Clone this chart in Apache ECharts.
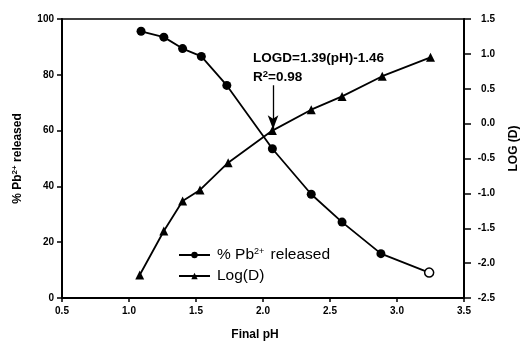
<!DOCTYPE html>
<html>
<head>
<meta charset="utf-8">
<script src="https://cdn.jsdelivr.net/npm/echarts@6/dist/echarts.min.js"></script>
<style>
html, body { margin: 0; padding: 0; background: #fff; }
#chart { width: 523px; height: 345px; }
</style>
</head>
<body>
<div id="chart"></div>
<script>
// pH values
const phPb = [1.09, 1.26, 1.40, 1.54, 1.73, 2.07, 2.36, 2.59, 2.88, 3.24];
const pbReleased = [95.6, 93.5, 89.4, 86.6, 76.2, 53.5, 37.2, 27.2, 15.9, 9.1];
const phLog = [1.08, 1.26, 1.40, 1.53, 1.74, 2.07, 2.36, 2.59, 2.89, 3.25];
const logD = [-2.17, -1.54, -1.11, -0.95, -0.56, -0.10, 0.20, 0.39, 0.68, 0.95];

const font = "Liberation Sans, Arial, sans-serif";

var myChart = echarts.init(document.getElementById("chart"));

let pbData = [];
phPb.forEach((x, i) => {
    let item = { value: [x, pbReleased[i]] };
    if (i === phPb.length - 1) {
        // last point drawn hollow in the original
        item.itemStyle = { color: "#fff", borderColor: "#000", borderWidth: 1.5 };
    }
    pbData.push(item);
});
let logData = phLog.map((x, i) => [x, logD[i]]);

const tickLabel = { color: "#000", fontFamily: font, fontWeight: "bold", fontSize: 10 };
const axisLine = { show: true, lineStyle: { color: "#000", width: 2 } };

myChart.setOption({
    animation: false,
    grid: {
        left: 62, right: 59, top: 19, bottom: 47,
        outerBoundsMode: "none",
        containLabel: false,
        show: true, borderColor: "#000", borderWidth: 1.5
    },
    legend: {
        left: 173, top: 242,
        orient: "vertical",
        itemWidth: 31, itemHeight: 8, itemGap: 5,
        data: ["pb", "log"],
        formatter: (name) => name === "pb" ? "{a|% Pb}{s|2+}{a| released}" : "{a|Log(D)}",
        textStyle: {
            color: "#000",
            rich: {
                a: { fontFamily: font, fontSize: 15.5, color: "#000", padding: [0, 0, 0, 2] },
                s: { fontFamily: font, fontSize: 9, color: "#000", verticalAlign: "top", padding: [0, 0, 7, 0] }
            }
        }
    },
    xAxis: {
        type: "value",
        min: 0.5, max: 3.5, interval: 0.5,
        name: "Final pH",
        nameLocation: "middle", nameGap: 31,
        nameTextStyle: { color: "#000", fontFamily: font, fontWeight: "bold", fontSize: 12, padding: [0, 16, 0, 0] },
        axisLine: axisLine,
        axisTick: { show: true, length: 4, lineStyle: { color: "#000", width: 1.5 } },
        axisLabel: Object.assign({ formatter: (v) => v.toFixed(1), margin: 8 }, tickLabel),
        splitLine: { show: false }
    },
    yAxis: [
        {
            type: "value",
            min: 0, max: 100, interval: 20,
            name: "{b|% Pb}{s|2+}{b| released}",
            nameLocation: "middle", nameGap: 37,
            nameTextStyle: {
                rich: {
                    b: { fontFamily: font, fontWeight: "bold", fontSize: 12, color: "#000" },
                    s: { fontFamily: font, fontWeight: "bold", fontSize: 8, color: "#000", verticalAlign: "top", padding: [0, 0, 6, 0] }
                }
            },
            axisLine: axisLine,
            axisTick: { show: true, length: 5, lineStyle: { color: "#000", width: 1.5 } },
            axisLabel: Object.assign({ margin: 8 }, tickLabel),
            splitLine: { show: false }
        },
        {
            type: "value",
            min: -2.5, max: 1.5, interval: 0.5,
            position: "right",
            name: "LOG (D)",
            nameLocation: "middle", nameGap: 44, nameRotate: 90,
            nameTextStyle: { color: "#000", fontFamily: font, fontWeight: "bold", fontSize: 12, padding: [0, 0, 0, 20] },
            axisLine: axisLine,
            axisTick: { show: true, length: 7, lineStyle: { color: "#000", width: 1.5 } },
            axisLabel: Object.assign({ formatter: (v) => v.toFixed(1), margin: 31, align: "right" }, tickLabel),
            splitLine: { show: false }
        }
    ],
    series: [
        {
            name: "pb",
            type: "line",
            yAxisIndex: 0,
            symbol: "circle",
            symbolSize: 9,
            data: pbData,
            lineStyle: { color: "#000", width: 1.8 },
            itemStyle: { color: "#000" }
        },
        {
            name: "log",
            type: "line",
            yAxisIndex: 1,
            symbol: "triangle",
            symbolSize: 9,
            data: logData,
            lineStyle: { color: "#000", width: 1.8 },
            itemStyle: { color: "#000" },
            markLine: {
                silent: true,
                symbol: ["none", "arrow"],
                symbolSize: [8, 14],
                label: { show: false },
                lineStyle: { color: "#000", width: 1.3, type: "solid" },
                data: [[{ coord: [2.075, 0.55] }, { coord: [2.075, -0.08] }]]
            }
        }
    ],
    graphic: [
        {
            type: "text",
            left: 253, top: 51,
            style: {
                text: "LOGD=1.39(pH)-1.46",
                fontFamily: font, fontSize: 13.5, fontWeight: "bold", fill: "#000"
            }
        },
        {
            type: "text",
            left: 253, top: 69,
            style: {
                text: "{a|R}{s|2}{a|=0.98}",
                rich: {
                    a: { fontFamily: font, fontSize: 13.5, fontWeight: "bold", color: "#000" },
                    s: { fontFamily: font, fontSize: 9.5, fontWeight: "bold", color: "#000", verticalAlign: "top", padding: [0, 0, 7, 0] }
                }
            }
        }
    ]
});
</script>
</body>
</html>
